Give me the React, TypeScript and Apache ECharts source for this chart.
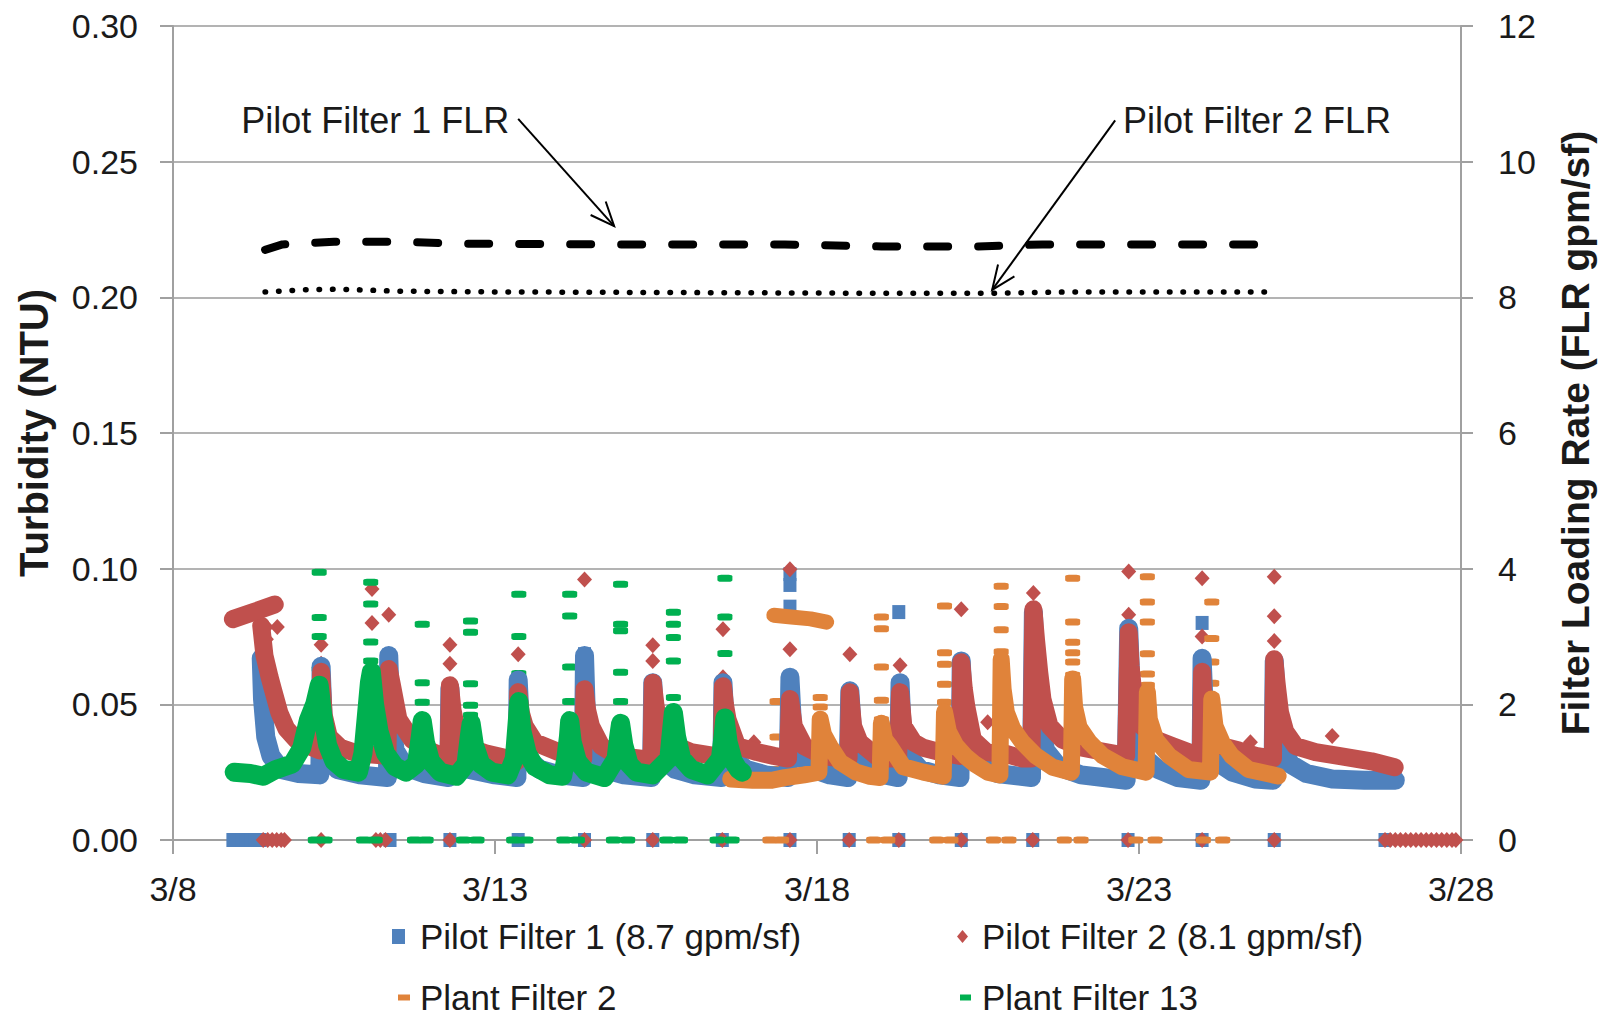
import React, { useEffect, useRef } from 'react';
import * as echarts from 'echarts';

// ---------- tick labels ----------
const xTickLabels = ['3/8', '3/13', '3/18', '3/23', '3/28'];

// ---------- series names ----------
const N_PF1 = 'Pilot Filter 1 (8.7 gpm/sf)';
const N_PF2 = 'Pilot Filter 2 (8.1 gpm/sf)';
const N_PL2 = 'Plant Filter 2';
const N_PL13 = 'Plant Filter 13';

// ---------- Pilot Filter 1 (day of March, NTU) ----------
const pf1Trend = [
  [9.37, 0.067], [9.39, 0.052], [9.44, 0.038], [9.52, 0.031], [9.68, 0.026], [9.95, 0.0245], [10.28, 0.024],
  [10.30, 0.064], [10.33, 0.045], [10.40, 0.032], [10.55, 0.026], [10.90, 0.024], [11.33, 0.023],
  [11.35, 0.068], [11.38, 0.046], [11.45, 0.033], [11.60, 0.027], [11.90, 0.0245], [12.28, 0.023],
  [12.30, 0.056], [12.33, 0.040], [12.42, 0.030], [12.60, 0.026], [13.00, 0.024], [13.34, 0.023],
  [13.36, 0.059], [13.40, 0.040], [13.50, 0.030], [13.70, 0.026], [14.00, 0.024], [14.37, 0.023],
  [14.39, 0.068], [14.42, 0.045], [14.52, 0.032], [14.70, 0.026], [15.00, 0.024], [15.43, 0.023],
  [15.45, 0.058], [15.49, 0.040], [15.60, 0.030], [15.80, 0.026], [16.10, 0.024], [16.52, 0.023],
  [16.54, 0.058], [16.58, 0.040], [16.70, 0.030], [16.90, 0.026], [17.20, 0.024], [17.55, 0.023],
  [17.58, 0.060], [17.62, 0.042], [17.74, 0.031], [17.95, 0.026], [18.20, 0.024], [18.48, 0.023],
  [18.51, 0.055], [18.55, 0.040], [18.65, 0.030], [18.85, 0.025], [19.26, 0.023],
  [19.29, 0.058], [19.32, 0.042], [19.42, 0.031], [19.60, 0.026], [19.90, 0.024], [20.22, 0.023],
  [20.24, 0.066], [20.27, 0.050], [20.35, 0.035], [20.50, 0.028], [20.80, 0.0245], [21.33, 0.023],
  [21.36, 0.084], [21.39, 0.065], [21.45, 0.045], [21.55, 0.033], [21.75, 0.027], [22.10, 0.024], [22.80, 0.022],
  [22.84, 0.078], [22.87, 0.060], [22.93, 0.042], [23.05, 0.031], [23.30, 0.026], [23.60, 0.023], [23.96, 0.022],
  [23.98, 0.067], [24.01, 0.050], [24.08, 0.036], [24.20, 0.029], [24.45, 0.025], [24.80, 0.0225], [25.08, 0.022],
  [25.10, 0.066], [25.14, 0.050], [25.20, 0.036], [25.35, 0.028], [25.60, 0.0245], [26.00, 0.0225], [26.50, 0.022], [26.98, 0.022],
];
const pf1Points = [
  [11.35, 0.068], [13.36, 0.059], [14.39, 0.0685], [17.58, 0.098], [17.58, 0.094], [17.58, 0.086],
  [19.27, 0.084], [23.98, 0.080],
  [8.93, 0], [9.00, 0], [9.07, 0], [9.14, 0], [9.21, 0], [9.28, 0], [9.35, 0], [11.37, 0], [12.30, 0],
  [13.36, 0], [14.39, 0], [15.45, 0], [16.53, 0], [17.58, 0], [18.50, 0], [19.27, 0], [20.24, 0],
  [21.35, 0], [22.83, 0], [23.98, 0], [25.10, 0], [26.82, 0],
];

// ---------- Pilot Filter 2 ----------
const pf2Early = [[8.93, 0.0814], [9.25, 0.0840], [9.58, 0.0868]];
const pf2Trend = [
  [9.37, 0.079], [9.42, 0.068], [9.50, 0.060], [9.55, 0.0556], [9.65, 0.047], [9.76, 0.041], [9.91, 0.037], [10.12, 0.0346], [10.28, 0.033],
  [10.30, 0.062], [10.34, 0.046], [10.42, 0.038], [10.60, 0.034], [10.85, 0.032], [11.33, 0.031],
  [11.35, 0.063], [11.40, 0.057], [11.50, 0.0445], [11.71, 0.037], [11.92, 0.0335], [12.17, 0.031], [12.28, 0.030],
  [12.30, 0.057], [12.34, 0.048], [12.39, 0.042], [12.54, 0.0346], [12.85, 0.032], [13.21, 0.030], [13.34, 0.029],
  [13.36, 0.0545], [13.40, 0.047], [13.46, 0.042], [13.62, 0.036], [13.98, 0.0325], [14.24, 0.031], [14.37, 0.030],
  [14.39, 0.0556], [14.43, 0.048], [14.49, 0.042], [14.65, 0.0346], [14.90, 0.031], [15.27, 0.030], [15.43, 0.029],
  [15.45, 0.058], [15.49, 0.050], [15.53, 0.0445], [15.68, 0.036], [16.04, 0.0324], [16.40, 0.031], [16.52, 0.030],
  [16.54, 0.0567], [16.57, 0.050], [16.61, 0.0445], [16.76, 0.0346], [17.07, 0.0324], [17.33, 0.031], [17.55, 0.030],
  [17.58, 0.052], [17.64, 0.042], [17.80, 0.0346], [18.10, 0.031], [18.36, 0.030], [18.49, 0.030],
  [18.51, 0.0545], [18.56, 0.042], [18.66, 0.036], [18.92, 0.031], [19.13, 0.030], [19.26, 0.030],
  [19.29, 0.0545], [19.34, 0.042], [19.50, 0.036], [19.65, 0.034], [19.91, 0.0324], [20.22, 0.031],
  [20.24, 0.0655], [20.28, 0.0556], [20.32, 0.049], [20.42, 0.037], [20.63, 0.0324], [20.94, 0.0317], [21.19, 0.030], [21.33, 0.030],
  [21.36, 0.085], [21.40, 0.074], [21.45, 0.062], [21.50, 0.052], [21.61, 0.042], [21.81, 0.037], [22.12, 0.034], [22.48, 0.0324], [22.80, 0.031],
  [22.84, 0.0766], [22.87, 0.064], [22.92, 0.052], [23.05, 0.042], [23.26, 0.037], [23.52, 0.0346], [23.77, 0.0324], [23.96, 0.030],
  [23.98, 0.062], [24.00, 0.052], [24.08, 0.042], [24.29, 0.0346], [24.55, 0.033], [24.81, 0.031], [25.08, 0.030],
  [25.10, 0.0666], [25.14, 0.057], [25.19, 0.047], [25.27, 0.040], [25.43, 0.0346], [25.74, 0.0324], [26.10, 0.031], [26.61, 0.029], [26.97, 0.0268],
];
const pf2Points = [
  [9.45, 0.0785], [9.62, 0.0785], [9.45, 0.074], [10.30, 0.072], [10.30, 0.065], [11.09, 0.0925], [11.09, 0.080],
  [11.35, 0.083], [11.35, 0.066], [12.30, 0.072], [12.30, 0.065], [13.36, 0.0685], [14.39, 0.096], [14.39, 0.062],
  [15.45, 0.0718], [15.45, 0.066], [16.54, 0.0777], [16.54, 0.060], [17.02, 0.036], [17.58, 0.0998], [17.58, 0.0703],
  [17.58, 0.0574], [18.51, 0.0685], [19.29, 0.0644], [20.24, 0.085], [20.65, 0.0434], [21.36, 0.091], [22.84, 0.099],
  [22.84, 0.083], [23.98, 0.0965], [23.98, 0.075], [23.98, 0.067], [24.73, 0.036], [25.10, 0.097], [25.10, 0.0825],
  [25.10, 0.0733], [26.00, 0.0383],
  [9.40, 0], [9.47, 0], [9.54, 0], [9.61, 0], [9.68, 0], [9.73, 0], [10.30, 0], [11.15, 0], [11.22, 0], [11.30, 0],
  [12.30, 0], [14.39, 0], [15.45, 0], [16.53, 0], [17.58, 0], [18.50, 0], [19.27, 0], [20.24, 0], [21.35, 0],
  [22.83, 0], [23.98, 0], [25.10, 0],
  [26.82, 0], [26.90, 0], [26.98, 0], [27.06, 0], [27.14, 0], [27.22, 0], [27.30, 0], [27.38, 0], [27.46, 0],
  [27.54, 0], [27.62, 0], [27.70, 0], [27.78, 0], [27.86, 0], [27.92, 0],
];

// ---------- Plant Filter 2 ----------
const pl2Band = [[17.33, 0.0828], [17.60, 0.0822], [17.90, 0.0815], [18.15, 0.0803]];
const pl2Trend = [
  [16.66, 0.0225], [17.00, 0.022], [17.30, 0.022], [17.50, 0.023], [17.80, 0.024], [18.03, 0.025],
  [18.05, 0.0445], [18.10, 0.039], [18.20, 0.0346], [18.36, 0.0287], [18.61, 0.025], [18.82, 0.0235], [18.98, 0.023],
  [19.00, 0.043], [19.05, 0.037], [19.13, 0.0346], [19.34, 0.027], [19.65, 0.025], [19.96, 0.0235],
  [19.98, 0.0472], [20.04, 0.040], [20.15, 0.035], [20.30, 0.031], [20.45, 0.028], [20.65, 0.025], [20.84, 0.024],
  [20.86, 0.0666], [20.89, 0.0556], [20.94, 0.047], [21.04, 0.041], [21.19, 0.036], [21.40, 0.031], [21.66, 0.0268], [21.95, 0.025],
  [21.97, 0.0593], [22.00, 0.049], [22.07, 0.0415], [22.23, 0.036], [22.44, 0.031], [22.74, 0.027], [23.11, 0.025],
  [23.13, 0.0546], [23.16, 0.0445], [23.26, 0.037], [23.47, 0.031], [23.77, 0.026], [24.11, 0.025],
  [24.13, 0.052], [24.18, 0.042], [24.29, 0.036], [24.44, 0.031], [24.70, 0.026], [25.16, 0.0236],
];
const pl2Points = [
  [17.38, 0.051], [17.38, 0.038], [17.38, 0.0317], [17.38, 0.026], [18.05, 0.0525], [18.05, 0.049],
  [19.00, 0.0822], [19.00, 0.0779], [19.00, 0.0638], [19.00, 0.0515], [19.00, 0.0444],
  [19.98, 0.0862], [19.98, 0.069], [19.98, 0.0648], [19.98, 0.0574], [19.98, 0.0508],
  [20.86, 0.0935], [20.86, 0.0861], [20.86, 0.0775], [20.86, 0.0694],
  [21.97, 0.0965], [21.97, 0.0803], [21.97, 0.0729], [21.97, 0.069], [21.97, 0.0656], [21.97, 0.0608],
  [23.13, 0.097], [23.13, 0.0877], [23.13, 0.0803], [23.13, 0.0686], [23.13, 0.0612], [23.13, 0.057],
  [24.13, 0.0877], [24.13, 0.0743], [24.13, 0.0656], [24.13, 0.0578], [24.13, 0.053],
  [17.27, 0], [17.45, 0], [18.88, 0], [19.10, 0], [19.86, 0], [20.08, 0], [20.74, 0], [20.98, 0],
  [21.84, 0], [22.10, 0], [22.95, 0], [23.25, 0], [24.00, 0], [24.30, 0],
];

// ---------- Plant Filter 13 ----------
const pl13Trend = [
  [8.95, 0.025], [9.20, 0.0245], [9.40, 0.0235], [9.60, 0.026], [9.85, 0.028], [10.00, 0.034], [10.10, 0.044], [10.20, 0.050], [10.27, 0.057], [10.33, 0.045], [10.40, 0.035], [10.50, 0.029], [10.65, 0.026], [10.88, 0.025],
  [10.95, 0.032], [11.00, 0.045], [11.05, 0.058], [11.08, 0.062], [11.13, 0.050], [11.20, 0.040], [11.30, 0.032], [11.45, 0.027], [11.62, 0.025],
  [11.78, 0.028], [11.84, 0.038], [11.87, 0.044], [11.92, 0.036], [12.00, 0.029], [12.15, 0.025], [12.40, 0.0235],
  [12.55, 0.028], [12.60, 0.038], [12.63, 0.043], [12.68, 0.035], [12.78, 0.028], [12.95, 0.025], [13.20, 0.024],
  [13.30, 0.030], [13.34, 0.042], [13.37, 0.051], [13.42, 0.040], [13.50, 0.032], [13.62, 0.027], [13.85, 0.024], [14.05, 0.0235],
  [14.10, 0.030], [14.14, 0.038], [14.16, 0.044], [14.20, 0.036], [14.28, 0.029], [14.42, 0.025], [14.70, 0.023],
  [14.88, 0.030], [14.92, 0.038], [14.95, 0.043], [15.00, 0.035], [15.08, 0.028], [15.20, 0.025], [15.45, 0.024],
  [15.70, 0.030], [15.74, 0.040], [15.77, 0.047], [15.82, 0.038], [15.90, 0.030], [16.05, 0.026], [16.30, 0.024],
  [16.50, 0.030], [16.54, 0.038], [16.57, 0.045], [16.62, 0.036], [16.70, 0.029], [16.78, 0.026], [16.84, 0.025],
];
const pl13Points = [
  [10.27, 0.0987], [10.27, 0.082], [10.27, 0.075], [10.27, 0.063],
  [11.07, 0.095], [11.07, 0.087], [11.07, 0.073], [11.07, 0.066],
  [11.87, 0.0795], [11.87, 0.058], [11.87, 0.0508], [11.87, 0.0445],
  [12.62, 0.0807], [12.62, 0.0766], [12.62, 0.0576], [12.62, 0.0497], [12.62, 0.046],
  [13.37, 0.0906], [13.37, 0.075], [13.37, 0.0614], [13.37, 0.051],
  [14.16, 0.0906], [14.16, 0.0826], [14.16, 0.0638], [14.16, 0.051], [14.16, 0.0445],
  [14.95, 0.0943], [14.95, 0.0795], [14.95, 0.0771], [14.95, 0.0618], [14.95, 0.051], [14.95, 0.0436],
  [15.77, 0.0839], [15.77, 0.0795], [15.77, 0.0746], [15.77, 0.066], [15.77, 0.0525], [15.77, 0.047],
  [16.57, 0.0965], [16.57, 0.0822], [16.57, 0.0687], [16.57, 0.054], [16.57, 0.0466],
  [10.21, 0], [10.36, 0], [10.96, 0], [11.14, 0], [11.75, 0], [11.93, 0], [12.51, 0], [12.72, 0],
  [13.29, 0], [13.48, 0], [14.07, 0], [14.28, 0], [14.84, 0], [15.06, 0], [15.67, 0], [15.88, 0],
  [16.45, 0], [16.68, 0],
];

// ---------- Filter loading rates (gpm/sf, right axis) ----------
const pf1Flr = [
  [9.43, 8.70], [9.70, 8.78], [10.5, 8.82], [11.5, 8.82], [12.5, 8.79], [15.0, 8.78], [17.5, 8.78],
  [19.0, 8.75], [20.5, 8.75], [21.5, 8.78], [23.0, 8.78], [25.0, 8.78],
];
const pf2Flr = [
  [9.43, 8.08], [10.0, 8.11], [10.6, 8.12], [11.5, 8.09], [13.0, 8.08], [16.0, 8.07], [19.0, 8.06],
  [20.7, 8.06], [22.0, 8.08], [25.0, 8.08],
];

// ---------- annotations (data coordinates on right axis) ----------
const annotations = [
  { text: 'Pilot Filter 1 FLR', textAt: [9.06, 10.61], tail: [13.36, 10.63], tip: [14.85, 9.05] },
  { text: 'Pilot Filter 2 FLR', textAt: [22.75, 10.61], tail: [22.63, 10.61], tip: [20.72, 8.11] },
];

const C_BLUE = '#4F81BD';
const C_RED = '#C0504D';
const C_ORANGE = '#E0833A';
const C_GREEN = '#00B050';
const FONT = '"Liberation Sans", Arial, sans-serif';
const TXT = '#1a1a1a';

function trend(name: string, data: number[][], color: string, width: number) {
  return {
    name, type: 'line', data, color, symbol: 'none', showSymbol: false, silent: true,
    lineStyle: { color, width, cap: 'round', join: 'round' },
    connectNulls: false,
  };
}
function points(name: string, data: number[][], color: string, symbol: string, size: number[]) {
  return {
    name, type: 'scatter', data, color, symbol, symbolSize: size, silent: true,
    itemStyle: { color, opacity: 1 },
  };
}

function legendFor(name: string, icon: string, left: number, top: number, w: number, h: number, padLeft: number) {
  return {
    data: [{ name, icon }], left, top, itemWidth: w, itemHeight: h, padding: 0,
    selectedMode: false, orient: 'horizontal',
    textStyle: { fontSize: 35, fontFamily: FONT, color: TXT, padding: [0, 0, 0, padLeft] },
  };
}

export default function App() {
  const ref = useRef<HTMLDivElement>(null);
  useEffect(() => {
    document.body.style.margin = '0';
    const chart = echarts.init(ref.current as HTMLDivElement, null, { renderer: 'svg' });
    const option: any = {
      animation: false,
      backgroundColor: '#ffffff',
      grid: { left: 173, right: 149, top: 26, bottom: 181, containLabel: false },
      xAxis: {
        type: 'value', min: 8, max: 28, interval: 5,
        axisLine: { show: true, lineStyle: { color: '#a0a0a0', width: 2 } },
        axisTick: { show: true, length: 14, lineStyle: { color: '#a0a0a0', width: 2 } },
        splitLine: { show: false },
        axisLabel: {
          margin: 32, fontSize: 34, fontFamily: FONT, color: TXT,
          formatter: (v: number) => xTickLabels[Math.round((v - 8) / 5)] ?? '',
        },
      },
      yAxis: [
        {
          type: 'value', min: 0, max: 0.3, interval: 0.05, position: 'left',
          name: 'Turbidity (NTU)', nameLocation: 'middle', nameRotate: 90, nameGap: 119,
          nameTextStyle: { fontSize: 40, fontWeight: 'bold', fontFamily: FONT, color: TXT },
          axisLine: { show: true, lineStyle: { color: '#a0a0a0', width: 2 } },
          axisTick: { show: true, length: 13, lineStyle: { color: '#a0a0a0', width: 2 } },
          splitLine: { show: true, lineStyle: { color: '#9a9a9a', width: 1.5 } },
          axisLabel: { margin: 35, fontSize: 34, fontFamily: FONT, color: TXT, formatter: (v: number) => v.toFixed(2) },
        },
        {
          type: 'value', min: 0, max: 12, interval: 2, position: 'right',
          name: 'Filter Loading Rate (FLR gpm/sf)', nameLocation: 'middle', nameRotate: 90, nameGap: 95,
          nameTextStyle: { fontSize: 39, fontWeight: 'bold', fontFamily: FONT, color: TXT },
          axisLine: { show: true, lineStyle: { color: '#a0a0a0', width: 2 } },
          axisTick: { show: true, length: 12, lineStyle: { color: '#a0a0a0', width: 2 } },
          splitLine: { show: false },
          axisLabel: { margin: 37, fontSize: 34, fontFamily: FONT, color: TXT },
        },
      ],
      legend: [
        legendFor(N_PF1, 'rect', 392, 919, 13, 15, 10),
        legendFor(N_PF2, 'diamond', 957, 919, 11, 13, 9),
        legendFor(N_PL2, 'rect', 398, 980, 12, 6, 5),
        legendFor(N_PL13, 'rect', 960, 980, 11, 6, 6),
      ],
      series: [
        points(N_PF1, pf1Points, C_BLUE, 'rect', [13, 14]),
        trend(N_PF1, pf1Trend, C_BLUE, 19),
        points(N_PF2, pf2Points, C_RED, 'diamond', [15, 16]),
        trend(N_PF2, pf2Trend, C_RED, 18),
        trend(N_PF2, pf2Early, C_RED, 18),
        points(N_PL2, pl2Points, C_ORANGE, 'roundRect', [15, 7]),
        trend(N_PL2, pl2Trend, C_ORANGE, 17),
        trend(N_PL2, pl2Band, C_ORANGE, 15),
        points(N_PL13, pl13Points, C_GREEN, 'roundRect', [15, 7]),
        trend(N_PL13, pl13Trend, C_GREEN, 19),
        {
          name: 'Pilot Filter 1 FLR', type: 'line', yAxisIndex: 1, data: pf1Flr, symbol: 'none', silent: true,
          lineStyle: { color: '#000', width: 8, type: [21, 30], cap: 'round' }, color: '#000',
        },
        {
          name: 'Pilot Filter 2 FLR', type: 'line', yAxisIndex: 1, data: pf2Flr, symbol: 'none', silent: true,
          lineStyle: { color: '#000', width: 5.5, type: [0.5, 13], cap: 'round' }, color: '#000',
        },
      ],
    };
    chart.setOption(option);

    const toPx = (p: number[]) => chart.convertToPixel({ xAxisIndex: 0, yAxisIndex: 1 }, p) as number[];
    const graphics: any[] = [];
    annotations.forEach((a) => {
      const t = toPx(a.textAt);
      const tail = toPx(a.tail);
      const tip = toPx(a.tip);
      graphics.push({
        type: 'text', x: t[0], y: t[1], silent: true,
        style: { text: a.text, fontSize: 36, fontFamily: FONT, fill: TXT, align: 'left', verticalAlign: 'middle' },
      });
      graphics.push({
        type: 'line', silent: true,
        shape: { x1: tail[0], y1: tail[1], x2: tip[0], y2: tip[1] },
        style: { stroke: '#000', lineWidth: 2 },
      });
      const ang = Math.atan2(tip[1] - tail[1], tip[0] - tail[0]);
      const L = 26, s = 0.4;
      graphics.push({
        type: 'polyline', silent: true,
        shape: {
          points: [
            [tip[0] - L * Math.cos(ang - s), tip[1] - L * Math.sin(ang - s)],
            [tip[0], tip[1]],
            [tip[0] - L * Math.cos(ang + s), tip[1] - L * Math.sin(ang + s)],
          ],
        },
        style: { stroke: '#000', lineWidth: 2, fill: null },
      });
    });
    chart.setOption({ graphic: graphics });

    return () => chart.dispose();
  }, []);
  return <div ref={ref} style={{ width: 1610, height: 1021 }} />;
}
